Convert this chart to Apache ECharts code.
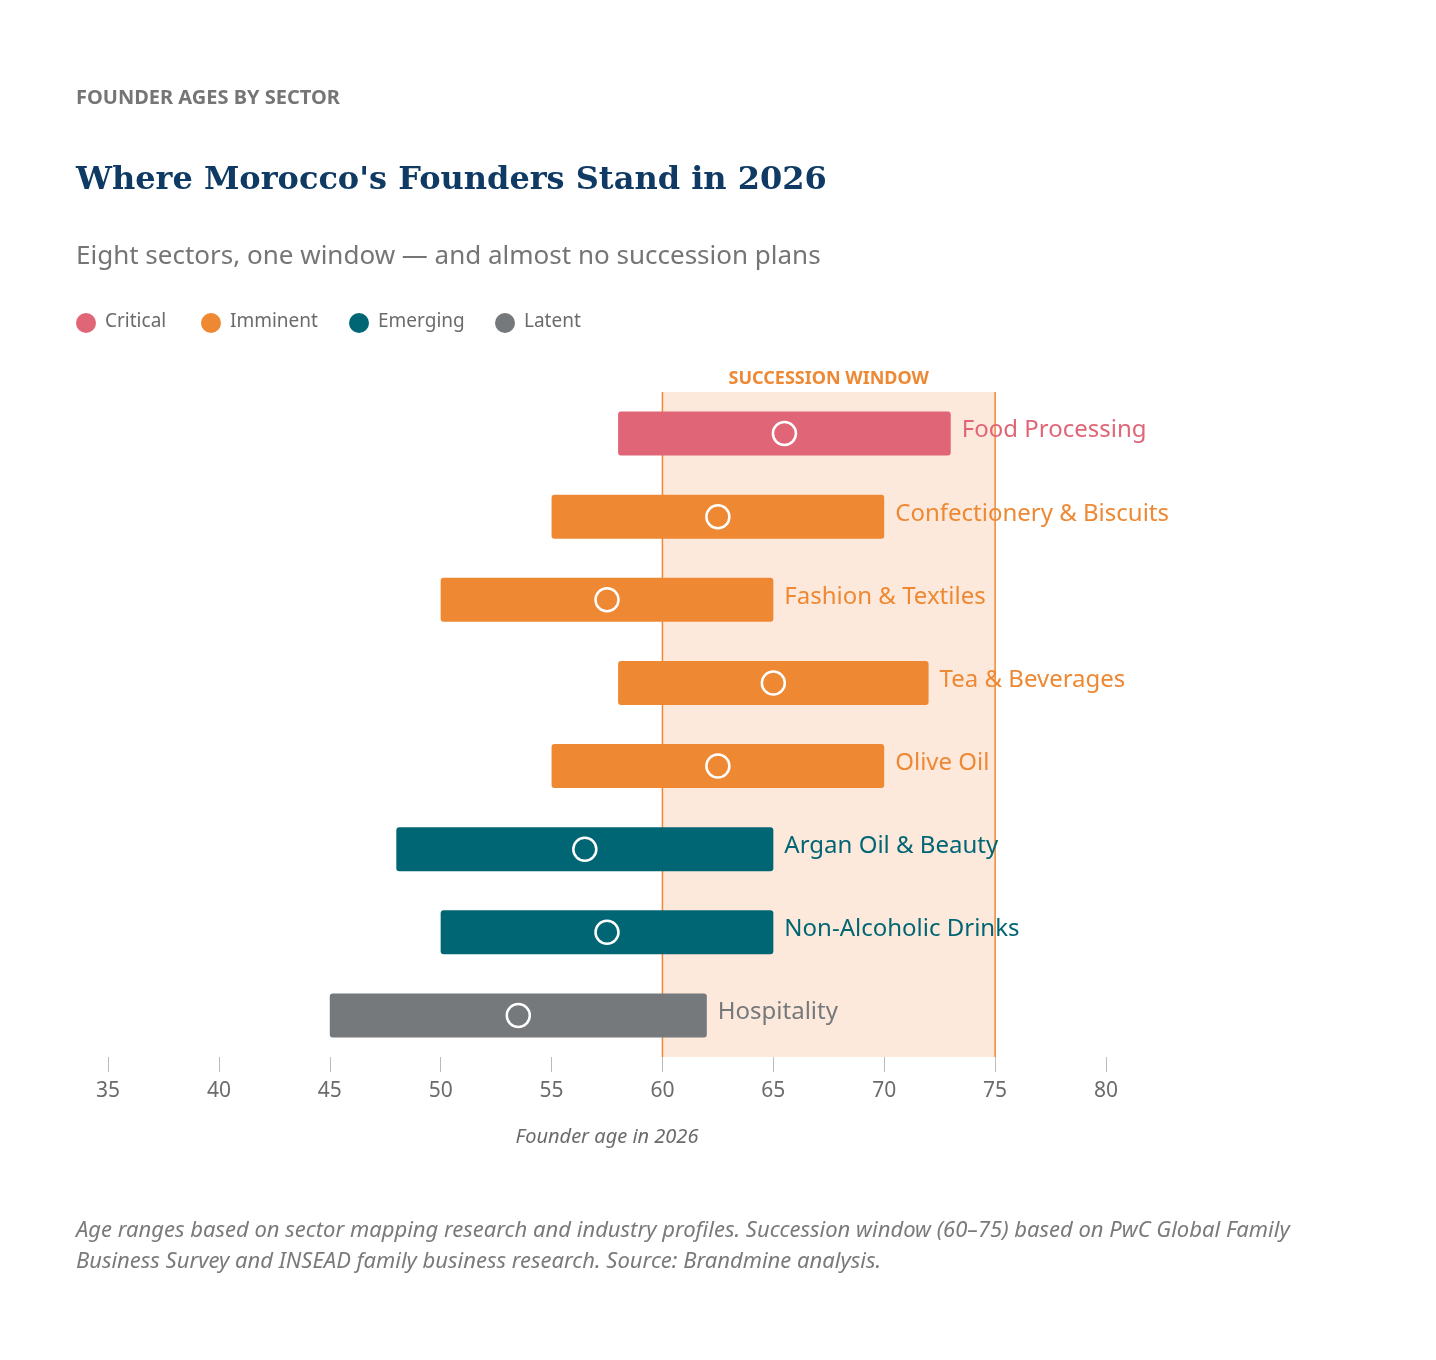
<!DOCTYPE html>
<html><head><meta charset="utf-8">
<script src="https://cdn.jsdelivr.net/npm/echarts@6/dist/echarts.min.js"></script>
<style>html,body{margin:0;background:#fff}#c{width:1436px;height:1360px}</style>
</head><body><div id="c"></div>
<script>
const sectors = ['Food Processing','Confectionery & Biscuits','Fashion & Textiles','Tea & Beverages','Olive Oil','Argan Oil & Beauty','Non-Alcoholic Drinks','Hospitality'];
const ageLow = [58,55,50,58,55,48,50,45];
const ageHigh = [73,70,65,72,70,65,65,62];
const ageMid = [65.5,62.5,57.5,65,62.5,56.5,57.5,53.5];
const tier = ['Critical','Imminent','Imminent','Imminent','Imminent','Emerging','Emerging','Latent'];
const tierNames = ['Critical','Imminent','Emerging','Latent'];
const tierColors = {Critical:'#e06677',Imminent:'#ee8833',Emerging:'#006674',Latent:'#75797b'};
const windowRange = [60,75];

const sans = '"Source Sans Pro","Noto Sans",sans-serif';
const chart = echarts.init(document.getElementById('c'));
const legendGraphics = [];
let lx = 76;
const legendW = [125,148,146,100];
tierNames.forEach((t,i)=>{
  legendGraphics.push({type:'circle',shape:{cx:lx+10,cy:323,r:10},style:{fill:tierColors[t]}});
  legendGraphics.push({type:'text',x:lx+29,y:322,style:{text:t,font:'19px '+sans,fill:'#6b6b6b',verticalAlign:'middle'}});
  lx += legendW[i];
});
chart.setOption({
  animation:false,
  grid:{left:108,right:330,top:392,bottom:303},
  xAxis:{type:'value',min:35,max:80,interval:5,
    axisLine:{show:true,lineStyle:{color:'rgba(0,0,0,0)'}},splitLine:{show:false},
    axisTick:{show:true,length:15,inside:false,lineStyle:{color:'#bbb',width:1}},
    axisLabel:{fontSize:21,color:'#6b6b6b',fontFamily:sans,margin:24,showMinLabel:true,showMaxLabel:true},
    name:'Founder age in 2026',nameLocation:'middle',nameGap:70,
    nameTextStyle:{fontSize:20,fontStyle:'italic',color:'#6b6b6b',fontFamily:sans}},
  yAxis:{type:'category',data:sectors,inverse:true,show:false},
  graphic:[
    {type:'text',left:76,top:88,style:{text:'FOUNDER AGES BY SECTOR',font:'bold 20px '+sans,fill:'#757575'}},
    {type:'text',left:76,top:165,style:{text:"Where Morocco's Founders Stand in 2026",font:'bold 32px "DejaVu Serif",serif',fill:'#0f3a63'}},
    {type:'text',left:76,top:244,style:{text:'Eight sectors, one window \u2014 and almost no succession plans',font:'26px '+sans,fill:'#757575'}},
    ...legendGraphics,
    {type:'text',left:76,top:1215,style:{text:'Age ranges based on sector mapping research and industry profiles. Succession window (60\u201375) based on PwC Global Family\nBusiness Survey and INSEAD family business research. Source: Brandmine analysis.',font:'italic 22px '+sans,fill:'#7a7a7a',lineHeight:31}}
  ],
  series:[
    {type:'custom',z:1,
      data:[[windowRange[0],windowRange[1]]],
      renderItem:(p,api)=>{
        const a=api.coord([api.value(0),0]), b=api.coord([api.value(1),0]);
        const top=p.coordSys.y, h=p.coordSys.height;
        return {type:'group',children:[
          {type:'rect',shape:{x:a[0],y:top,width:b[0]-a[0],height:h},style:{fill:'#fde9db'}},
          {type:'line',shape:{x1:a[0],y1:top,x2:a[0],y2:top+h},style:{stroke:'#ee8833',lineWidth:1.5}},
          {type:'line',shape:{x1:b[0],y1:top,x2:b[0],y2:top+h},style:{stroke:'#ee8833',lineWidth:1.5}},
          {type:'text',x:(a[0]+b[0])/2,y:top-13,style:{text:'SUCCESSION WINDOW',font:'bold 18px '+sans,fill:'#ee8833',align:'center',verticalAlign:'middle'}}
        ]};
      }},
    {type:'custom',z:3,
      data:sectors.map((s,i)=>[ageLow[i],ageHigh[i],i]),
      encode:{x:[0,1],y:2},
      renderItem:(p,api)=>{
        const i=api.value(2);
        const a=api.coord([api.value(0),i]), b=api.coord([api.value(1),i]);
        const h=44, col=tierColors[tier[i]];
        return {type:'group',children:[
          {type:'rect',shape:{x:a[0],y:a[1]-h/2,width:b[0]-a[0],height:h,r:3},style:{fill:col}},
          {type:'text',x:b[0]+11,y:a[1]-3,style:{text:sectors[i],font:'24px '+sans,fill:col,verticalAlign:'middle'}}
        ]};
      }},
    {type:'scatter',z:5,symbol:'circle',symbolSize:23,
      data:ageMid.map((m,i)=>[m,i]),
      itemStyle:{color:'rgba(0,0,0,0)',borderColor:'#ffffff',borderWidth:2.5,opacity:1}}
  ]
});
</script></body></html>
